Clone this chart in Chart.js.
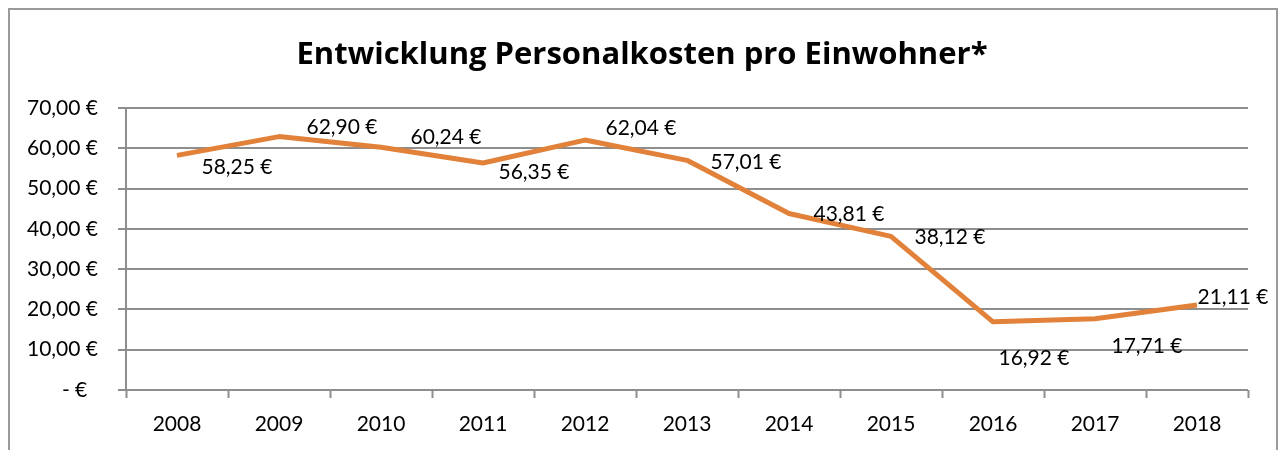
<!DOCTYPE html>
<html>
<head>
<meta charset="utf-8">
<script src="https://cdn.jsdelivr.net/npm/chart.js@4"></script>
<style>
  html, body { margin: 0; padding: 0; background: #fff; }
  #wrap { width: 1279px; height: 450px; position: relative; }
</style>
</head>
<body>
<div id="wrap"><canvas id="lineChart" width="1279" height="450"></canvas></div>
<script>
const years = ["2008", "2009", "2010", "2011", "2012", "2013", "2014", "2015", "2016", "2017", "2018"];
const costPerResident = [58.25, 62.90, 60.24, 56.35, 62.04, 57.01, 43.81, 38.12, 16.92, 17.71, 21.11];
const yTickLabels = ["- €  ", "10,00 €", "20,00 €", "30,00 €", "40,00 €", "50,00 €", "60,00 €", "70,00 €"];
const chartTitle = "Entwicklung Personalkosten pro Einwohner*";

// where each value label sits relative to its point (dx, dy in px)
const labelOffsets = [
    [60, 12], [63, -9], [65, -10], [51, 9], [56, -12], [59, 2],
    [60, 1], [59, 1], [41, 36], [52, 28], [36, -8]
];

const FONT = "Lato, 'Open Sans', sans-serif";
const TITLE_FONT = "'Open Sans', Lato, sans-serif";
const LINE_COLOR = "#E2823A";
const GRID_COLOR = "#8e8e8e";

function euro(v) {
    return v.toFixed(2).replace(".", ",") + " €";
}

// frame + title
const framePlugin = {
    id: "frame",
    beforeDraw(chart) {
        const ctx = chart.ctx;
        ctx.save();
        ctx.fillStyle = "#fff";
        ctx.fillRect(0, 0, chart.width, chart.height);
        ctx.strokeStyle = "#9a9a9a";
        ctx.lineWidth = 2;
        ctx.strokeRect(9, 9, 1268, 470);
        ctx.fillStyle = "#000";
        ctx.font = "bold 31px " + TITLE_FONT;
        ctx.textAlign = "center";
        ctx.textBaseline = "alphabetic";
        ctx.fillText(chartTitle, 642, 64);
        ctx.restore();
    }
};

// value labels next to the points
const valueLabels = {
    id: "valueLabels",
    afterDatasetsDraw(chart) {
        const ctx = chart.ctx;
        const meta = chart.getDatasetMeta(0);
        ctx.save();
        ctx.fillStyle = "#000";
        ctx.font = "21px " + FONT;
        ctx.textAlign = "center";
        ctx.textBaseline = "middle";
        meta.data.forEach((pt, i) => {
            const [dx, dy] = labelOffsets[i];
            ctx.fillText(euro(costPerResident[i]), pt.x + dx, pt.y + dy);
        });
        ctx.restore();
    }
};

const ctx = document.getElementById("lineChart").getContext("2d");
new Chart(ctx, {
    type: "line",
    data: {
        labels: years,
        datasets: [{
            data: costPerResident,
            borderColor: LINE_COLOR,
            borderWidth: 5,
            pointRadius: 0,
            tension: 0,
            fill: false,
            borderJoinStyle: "round",
            borderCapStyle: "butt"
        }]
    },
    options: {
        responsive: false,
        animation: false,
        layout: { padding: { top: 108, right: 31, left: 0, bottom: 0 } },
        plugins: {
            legend: { display: false },
            title: { display: false },
            tooltip: { enabled: false }
        },
        scales: {
            x: {
                offset: true,
                grid: {
                    offset: true,
                    drawOnChartArea: false,
                    drawTicks: true,
                    tickLength: 8,
                    tickWidth: 2,
                    tickColor: GRID_COLOR
                },
                border: { display: false },
                ticks: {
                    color: "#000",
                    font: { family: FONT, size: 21 },
                    padding: 14,
                    maxRotation: 0
                },
                afterFit(scale) {
                    scale.height = 60;
                    scale.paddingLeft = 0;
                    scale.paddingRight = 0;
                }
            },
            y: {
                min: 0,
                max: 70,
                ticks: {
                    stepSize: 10,
                    color: "#000",
                    font: { family: FONT, size: 21 },
                    padding: 20,
                    callback: (value, index) => yTickLabels[index]
                },
                grid: {
                    color: GRID_COLOR,
                    lineWidth: 2,
                    drawTicks: true,
                    tickLength: 8
                },
                border: { display: true, color: GRID_COLOR, width: 2 },
                afterFit(scale) {
                    scale.width = 126;
                    scale.paddingTop = 0;
                    scale.paddingBottom = 0;
                }
            }
        }
    },
    plugins: [framePlugin, valueLabels]
});
</script>
</body>
</html>
